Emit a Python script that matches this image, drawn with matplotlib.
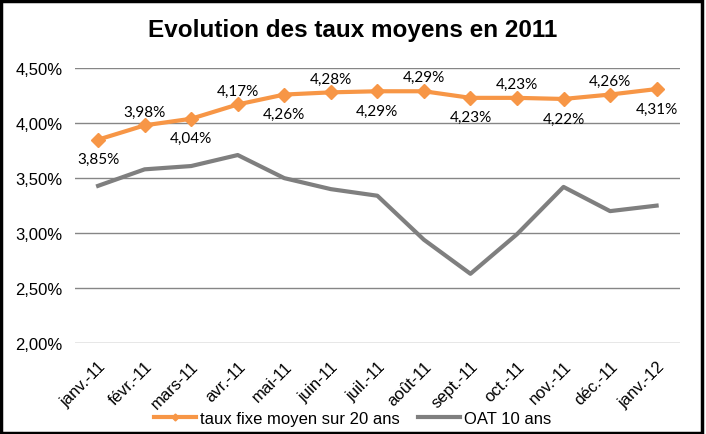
import matplotlib
matplotlib.use("Agg")
import matplotlib.pyplot as plt
from matplotlib.patches import Rectangle

mois = ["janv.-11", "févr.-11", "mars-11", "avr.-11", "mai-11", "juin-11", "juil.-11",
        "août-11", "sept.-11", "oct.-11", "nov.-11", "déc.-11", "janv.-12"]
taux_fixe = [3.85, 3.98, 4.04, 4.17, 4.26, 4.28, 4.29, 4.29, 4.23, 4.23, 4.22, 4.26, 4.31]
oat_10 = [3.43, 3.58, 3.61, 3.71, 3.50, 3.40, 3.34, 2.94, 2.63, 2.99, 3.42, 3.20, 3.25]
yticks = [2.0, 2.5, 3.0, 3.5, 4.0, 4.5]

fig = plt.figure(figsize=(7.06, 4.35), dpi=100)
ax = fig.add_axes([0.106, 0.209, 0.857, 0.632])

x = list(range(len(mois)))
ax.plot(x, taux_fixe, color="#F79646", lw=3, marker="D", ms=7,
        label="taux fixe moyen sur 20 ans", zorder=3)
ax.plot(x, oat_10, color="#7F7F7F", lw=3, label="OAT 10 ans", zorder=3)

# étiquettes alternées dessous / dessus
for i, v in enumerate(taux_fixe):
    txt = f"{v:.2f}%".replace(".", ",")
    if i % 2 == 0:
        ax.annotate(txt, (i, v), xytext=(0, -9), textcoords="offset points",
                    ha="center", va="top", fontsize=11, family="Lato")
    else:
        ax.annotate(txt, (i, v), xytext=(0, 5), textcoords="offset points",
                    ha="center", va="bottom", fontsize=11, family="Lato")

ax.set_xlim(-0.5, len(mois) - 0.5)
ax.set_ylim(2.0, 4.5)
ax.set_yticks(yticks)
ax.set_yticklabels([f"{t:.2f}%".replace(".", ",") for t in yticks],
                   fontsize=12, family="Liberation Sans")
ax.set_xticks(x)
ax.set_xticklabels(mois, rotation=45, ha="right", rotation_mode="anchor",
                   fontsize=12, family="Liberation Sans")
ax.tick_params(axis="x", length=0, pad=11)
ax.tick_params(axis="y", length=0, pad=9)
ax.grid(axis="y", color="#868686", lw=1)
ax.set_axisbelow(True)
for s in ax.spines.values():
    s.set_visible(False)

fig.text(0.5, 0.93, "Evolution des taux moyens en 2011", ha="center", va="center",
         fontsize=17.5, fontweight="bold", family="Liberation Sans")

fig.legend(loc="center", bbox_to_anchor=(0.5, 0.035), ncol=2, frameon=False,
           prop={"family": "Liberation Sans", "size": 12}, handlelength=2.5,
           handletextpad=0.25, columnspacing=1.1, markerscale=0.5)

fig.patches.append(Rectangle((0.002, 0.003), 0.993, 0.993, transform=fig.transFigure,
                             fill=False, ec="black", lw=2.5))

fig.savefig("out.png", dpi=100)
